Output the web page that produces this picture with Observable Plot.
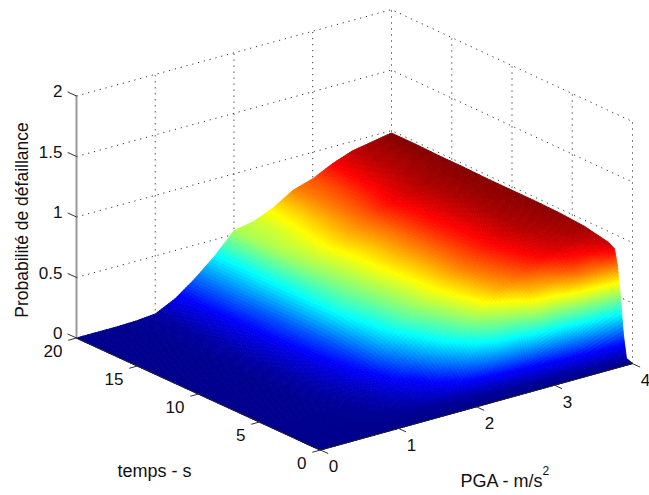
<!DOCTYPE html>
<html><head><meta charset="utf-8">
<style>html,body{margin:0;padding:0;background:#fff}svg{display:block}</style>
<script src="https://cdn.jsdelivr.net/npm/d3@7"></script>
<script src="https://cdn.jsdelivr.net/npm/@observablehq/plot@0.6"></script>
</head><body><div id="chart"></div>
<script>
const pga = [0,.25,.5,.75,1,1.25,1.5,1.75,2,2.25,2.5,2.75,3,3.25,3.5,3.75,4];
const temps = [0,.5,.75,1,1.25,1.5,2,3,4,6,8,10,12,14,16,18,20];
const probabilite = [
 [0,0,0,0,0,0,0,0,0,0,0,0,0,0,0,0,0],
 [0,0,0,0,0,0,0,0,0,0,.005,.005,.005,.01,.01,.015,.02],
 [0,0,0,0,0,0,0,.005,.01,.01,.015,.02,.03,.05,.1,.15,.2],
 [0,0,0,0,0,.002,.005,.01,.015,.025,.04,.08,.13,.22,.32,.42,.5],
 [0,0,0,0,.002,.005,.01,.025,.05,.1,.17,.24,.38,.42,.58,.62,.75],
 [0,0,0,0,.003,.01,.025,.05,.09,.18,.31,.35,.55,.57,.73,.74,.88],
 [0,0,0,.002,.005,.015,.04,.08,.15,.31,.44,.52,.66,.70,.82,.84,.91],
 [0,0,0,.003,.01,.03,.07,.125,.28,.43,.57,.68,.76,.84,.89,.915,.93],
 [0,0,0,.004,.015,.04,.1,.2,.35,.48,.6,.71,.79,.86,.91,.935,.95],
 [0,0,0,.005,.025,.07,.15,.31,.45,.55,.645,.745,.82,.885,.93,.95,.965],
 [0,0,0,.005,.03,.08,.18,.35,.47,.56,.65,.74,.82,.885,.935,.955,.97],
 [0,0,0,.005,.03,.09,.2,.39,.49,.58,.66,.74,.825,.885,.935,.96,.97],
 [0,0,0,.005,.03,.095,.21,.38,.5,.585,.66,.74,.825,.89,.935,.96,.97],
 [0,0,0,.005,.03,.10,.21,.37,.52,.6,.68,.75,.84,.9,.94,.96,.975],
 [0,0,0,.005,.025,.10,.22,.37,.53,.59,.66,.74,.81,.88,.93,.955,.975],
 [0,0,0,.005,.02,.10,.22,.36,.53,.57,.64,.73,.79,.87,.925,.95,.98],
 [0,0,0,.005,.02,.10,.22,.36,.53,.56,.63,.73,.78,.86,.92,.95,.98]
];
const zTicks = [0,.5,1,1.5,2];
const pgaTicks = [0,1,2,3,4];
const tempsTicks = [0,5,10,15,20];
const jetStops = [0,.125,.375,.625,.875,1];
const jetColors = ["#00008f","#0000ff","#00ffff","#ffff00","#ff0000","#800000"];
const zMax = .98;

// 3D view of the MATLAB axes box
const px = (p,t) => 320 + 78*p - 12.2*t + .0375*p*t;
const py = (p,t,z) => 449.5 - 21.6*p - 5.6*t - 121*z;
const pt = (p,t,z,extra={}) => ({x:px(p,t), y:py(p,t,z), ...extra});

// surface, far cells first, each cell shaded in small facets
const SUB = 9;
const facets = [];
let id = 0;
const lerp = (a,b,u) => a + (b-a)*u;
for (let j = temps.length-2; j >= 0; j--) {
  for (let i = pga.length-2; i >= 0; i--) {
    const z00=probabilite[j][i], z10=probabilite[j][i+1], z01=probabilite[j+1][i], z11=probabilite[j+1][i+1];
    const Z=(u,v)=>lerp(lerp(z00,z10,u),lerp(z01,z11,u),v);
    const P=u=>lerp(pga[i],pga[i+1],u), T=v=>lerp(temps[j],temps[j+1],v);
    for (let b = SUB-1; b >= 0; b--) for (let a = SUB-1; a >= 0; a--) {
      const u0=a/SUB,u1=(a+1)/SUB,v0=b/SUB,v1=(b+1)/SUB;
      const v=(Z(u0,v0)+Z(u1,v0)+Z(u0,v1)+Z(u1,v1))/4;
      id++;
      for (const [u,w] of [[u0,v0],[u1,v0],[u1,v1],[u0,v1]])
        facets.push(pt(P(u),T(w),Z(u,w),{id,v}));
    }
  }
}

// dotted grid on the two back walls
const grid = [];
let g = 0;
for (const z of zTicks) {
  g++; grid.push(pt(0,20,z,{g}),pt(4,20,z,{g}),pt(4,0,z,{g}));
}
for (const p of pgaTicks.slice(1)) { g++; grid.push(pt(p,20,0,{g}),pt(p,20,2,{g})); }
for (const t of tempsTicks.slice(0,4)) { g++; grid.push(pt(4,t,0,{g}),pt(4,t,2,{g})); }

// ticks
const ticks = [];
let k = 0;
for (const z of zTicks) { k++; ticks.push(pt(0,20,z,{k}),pt(0,20.7,z,{k})); }
for (const t of tempsTicks) { k++; ticks.push(pt(0,t,0,{k}),pt(-.1,t,0,{k})); }
for (const p of pgaTicks) { k++; ticks.push(pt(p,0,0,{k}),pt(p,-.6,0,{k})); }

const zLabels = zTicks.map(z => pt(0,20,z,{s:String(z)}));
const tLabels = tempsTicks.map(t => pt(0,t,0,{s:String(t)}));
const pLabels = pgaTicks.map(p => pt(p,0,0,{s:String(p)}));

const font = "Liberation Sans, Arial, sans-serif";
const txt = {fontFamily:font,fontSize:17,fill:"#111"};
const lab = {fontFamily:font,fontSize:18,fill:"#111"};
const chart = Plot.plot({
  width:649,height:495,margin:0,
  style:{background:"#fff"},
  x:{domain:[0,649],range:[0,649],axis:null},
  y:{domain:[0,495],range:[0,495],axis:null},
  color:{type:"linear",domain:jetStops.map(d=>d*zMax),range:jetColors,interpolate:"rgb"},
  marks:[
    Plot.line(grid,{x:"x",y:"y",z:"g",stroke:"#333",strokeWidth:1,strokeDasharray:"1.2 4.8",strokeLinecap:"butt"}),
    Plot.line(facets,{x:"x",y:"y",z:"id",fill:"v",stroke:"v",strokeWidth:.9,curve:"linear-closed",imageFilter:"blur(0.6px)"}),
    Plot.line([pt(0,20,0),pt(0,20,2)],{x:"x",y:"y",stroke:"#999",strokeWidth:2}),
    Plot.line([pt(0,20,0),pt(0,0,0),pt(4,0,0)],{x:"x",y:"y",stroke:"#222",strokeWidth:1}),
    Plot.line(ticks,{x:"x",y:"y",z:"k",stroke:"#333",strokeWidth:1}),
    Plot.text(zLabels,{x:"x",y:"y",text:"s",textAnchor:"end",dx:-14,dy:-4,...txt}),
    Plot.text(tLabels,{x:"x",y:"y",text:"s",textAnchor:"end",dx:-14,dy:14,...txt}),
    Plot.text(pLabels,{x:"x",y:"y",text:"s",textAnchor:"middle",dx:13,dy:17,...txt}),
    Plot.text([pt(0,20,1)],{x:"x",y:"y",text:()=>"Probabilité de défaillance",rotate:-90,dx:-54,dy:3,fontFamily:font,fontSize:17.5,fill:"#111"}),
    Plot.text([pt(0,10,0)],{x:"x",y:"y",text:()=>"temps - s",dx:-44,dy:77,...lab}),
    Plot.text([pt(2,0,0)],{x:"x",y:"y",text:()=>"PGA - m/s",textAnchor:"start",dx:-16,dy:74,...lab}),
    Plot.text([pt(2,0,0)],{x:"x",y:"y",text:()=>"2",textAnchor:"start",dx:66,dy:64,fontFamily:font,fontSize:12,fill:"#111"})
  ]
});
document.getElementById("chart").appendChild(chart);
</script></body></html>
